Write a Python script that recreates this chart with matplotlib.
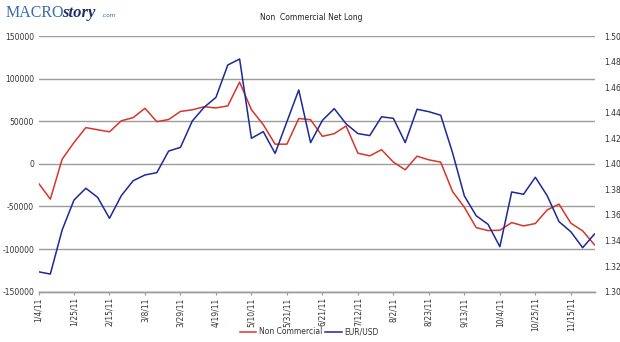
import matplotlib
matplotlib.use("Agg")
import matplotlib.pyplot as plt
import numpy as np

plt.rcParams["axes.unicode_minus"] = False

# weekly COT data, 1/4/11 .. 11/29/11
non_commercial = [-22700, -41400, 5500, 25000, 42500, 40000, 37600, 50500, 54200,
                  65200, 49500, 52000, 61500, 63400, 67000, 65600, 68000, 95900,
                  63500, 46000, 23100, 23100, 53200, 51800, 32300, 35400, 44400,
                  12500, 9400, 16600, 2000, -7000, 9000, 4700, 2000, -32500,
                  -51000, -74800, -78300, -77900, -68900, -72800, -70000, -54000,
                  -47300, -69600, -78600, -95000]
eurusd = [1.3156, 1.3138, 1.3483, 1.3717, 1.3809, 1.3738, 1.3574, 1.3751, 1.3868,
          1.3913, 1.3931, 1.4100, 1.4129, 1.4335, 1.4442, 1.4520, 1.4773, 1.4820,
          1.4200, 1.4252, 1.4082, 1.4330, 1.4578, 1.4166, 1.4340, 1.4432, 1.4313,
          1.4237, 1.4221, 1.4368, 1.4356, 1.4166, 1.4427, 1.4408, 1.4380, 1.4087,
          1.3749, 1.3594, 1.3527, 1.3352, 1.3780, 1.3762, 1.3895, 1.3751, 1.3548,
          1.3469, 1.3344, 1.3451]
tick_labels = ["1/4/11", "1/25/11", "2/15/11", "3/8/11", "3/29/11", "4/19/11",
               "5/10/11", "5/31/11", "6/21/11", "7/12/11", "8/2/11", "8/23/11",
               "9/13/11", "10/4/11", "10/25/11", "11/15/11"]

RED = "#d8352a"
BLUE = "#1d2899"
GRID = "#9c9c9c"
FS = 5.5

W, H = 620, 342
fig = plt.figure(figsize=(W / 100, H / 100), dpi=100)
ax = fig.add_axes([38.5 / W, 1 - 291.7 / H, (594.5 - 38.5) / W, (291.7 - 36) / H])
ax2 = ax.twinx()

x = np.arange(len(non_commercial))
l1, = ax.plot(x, non_commercial, color=RED, lw=1.1, label="Non Commercial")
l2, = ax2.plot(x, eurusd, color=BLUE, lw=1.1, label="EUR/USD")

ax.set_xlim(0, len(x) - 1)
ax.set_ylim(-150000, 150000)
lticks = np.arange(-150000, 150001, 50000)
ax.set_yticks(lticks)
ax.set_yticklabels([str(v) for v in lticks])
ax.yaxis.grid(True, color=GRID, lw=1.0)
ax.set_axisbelow(True)
ax2.set_ylim(1.30, 1.50)
rticks = np.arange(1.30, 1.5001, 0.02)
ax2.set_yticks(rticks)
ax2.set_yticklabels([f"{v:.2f}" for v in rticks])

ax.set_xticks(x[::3])
ax.set_xticklabels(tick_labels, rotation=90, fontsize=FS, color="#333333")
ax.tick_params(axis="x", length=2.5, width=0.8, color=GRID, pad=1.5)
ax.tick_params(axis="y", length=0, labelsize=FS, labelcolor="#333333", pad=3.2)
ax2.tick_params(axis="y", length=0, labelsize=FS, labelcolor="#333333", pad=7)

for a in (ax, ax2):
    for s in ("top", "left", "right"):
        a.spines[s].set_visible(False)
    a.spines["bottom"].set_color(GRID)
    a.spines["bottom"].set_linewidth(1.0)

fig.text(311 / W, 1 - 17.8 / H, "Non  Commercial Net Long", ha="center",
         va="center", fontsize=FS, color="#222222")

# logo
fig.text(6 / W, 1 - 17.3 / H, "MACRO", family="Liberation Serif", fontsize=11.5,
         color="#3b6aa8", va="baseline")
fig.text(62 / W, 1 - 17.3 / H, "story", family="Liberation Serif", fontsize=12,
         style="italic", weight="bold", color="#1f2f66", va="baseline")
fig.text(101 / W, 1 - 17.3 / H, ".com", family="DejaVu Sans", fontsize=4.2,
         color="#3b6aa8", va="baseline")

fig.legend(handles=[l1, l2], loc="center", bbox_to_anchor=(309 / W, 1 - 332 / H),
           ncol=2, frameon=False, fontsize=FS, handlelength=2.2, handletextpad=0.3,
           columnspacing=0.4, labelcolor="#333333")

fig.savefig("out.png", dpi=100)
